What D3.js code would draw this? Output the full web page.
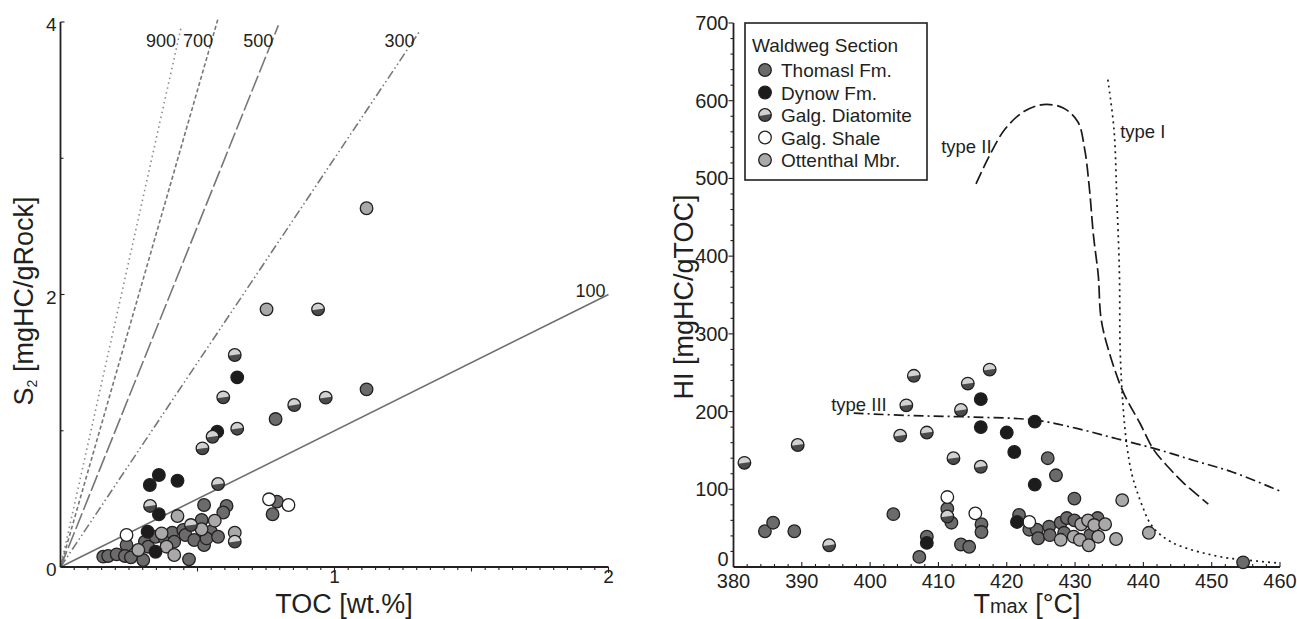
<!DOCTYPE html>
<html>
<head>
<meta charset="utf-8">
<script src="https://cdn.jsdelivr.net/npm/d3@7"></script>
<style>
body { margin: 0; background: #fff; }
svg { display: block; }
text { font-family: "Liberation Sans", Arial, sans-serif; fill: #231f20; }
</style>
</head>
<body>
<svg width="1297" height="619"></svg>
<script>
// ---- left plot: TOC [wt.%] vs S2 [mgHC/gRock]
const leftThomasl = [
  [1.117, 1.304], [0.785, 1.086], [0.79, 0.48], [0.774, 0.387], [0.524, 0.455], [0.606, 0.448],
  [0.594, 0.40], [0.515, 0.345], [0.469, 0.056], [0.241, 0.161], [0.156, 0.076], [0.174, 0.081],
  [0.205, 0.093], [0.235, 0.081], [0.257, 0.071], [0.302, 0.051], [0.308, 0.186], [0.32, 0.149],
  [0.347, 0.222], [0.381, 0.21], [0.408, 0.252], [0.415, 0.186], [0.448, 0.272], [0.456, 0.235],
  [0.488, 0.198], [0.524, 0.161], [0.549, 0.259], [0.533, 0.21], [0.575, 0.222]
];
const leftOttenthal = [
  [1.117, 2.633], [0.752, 1.891], [0.427, 0.374], [0.563, 0.34], [0.515, 0.277], [0.284, 0.125],
  [0.369, 0.247], [0.387, 0.149], [0.415, 0.088], [0.636, 0.252]
];
const leftShale = [[0.761, 0.497], [0.832, 0.455], [0.241, 0.235]];
const leftDynow = [
  [0.645, 1.392], [0.572, 0.993], [0.326, 0.602], [0.359, 0.675], [0.427, 0.633], [0.359, 0.387],
  [0.318, 0.259], [0.347, 0.112]
];
const leftDiatomite = [
  [0.94, 1.891], [0.636, 1.556], [0.594, 1.245], [0.853, 1.189], [0.968, 1.243], [0.645, 1.015],
  [0.555, 0.956], [0.518, 0.871], [0.575, 0.609], [0.327, 0.448], [0.476, 0.308], [0.636, 0.186]
];
// HI iso-lines (S2 = HI * TOC / 100) and the TOC where each one stops
const hiLines = [900, 700, 500, 300, 100];
const hiLineEndToc = [0.44, 0.575, 0.795, 1.31, 2.0];

// ---- right plot: Tmax [°C] vs HI [mgHC/gTOC]
const rightThomasl = [
  [384.6, 46], [385.8, 57], [388.9, 46], [403.4, 68], [407.2, 13], [408.3, 39], [411.3, 75],
  [411.9, 57], [413.3, 29], [414.5, 26], [416.3, 55], [416.3, 45], [426.0, 140], [427.2, 118],
  [429.9, 88], [454.6, 6], [421.8, 67], [423.3, 48], [424.4, 48], [424.6, 37], [426.2, 52],
  [426.3, 41], [427.9, 57], [428.8, 63], [428.4, 44], [429.9, 60], [432.2, 41], [433.3, 63]
];
const rightOttenthal = [
  [436.9, 86], [440.8, 44], [436.0, 36], [427.9, 35], [429.8, 39], [430.7, 35], [430.9, 55],
  [431.9, 60], [432.0, 28], [432.8, 54], [433.4, 39], [434.4, 55]
];
const rightShale = [[411.3, 90], [415.4, 69], [423.3, 58]];
const rightDynow = [
  [416.2, 216], [416.2, 180], [420.0, 173], [421.1, 148], [424.1, 187], [424.1, 106],
  [408.3, 31], [421.5, 58]
];
const rightDiatomite = [
  [381.6, 134], [389.4, 157], [394.0, 28], [404.4, 169], [405.3, 208], [406.4, 246], [408.3, 173],
  [411.3, 65], [412.2, 140], [413.3, 202], [414.3, 236], [416.2, 129], [417.5, 254]
];
// kerogen type curves
const typeICurve = [
  [434.8, 627], [435.7, 563], [436.1, 477], [436.5, 375], [436.6, 280], [437.0, 210], [437.6, 155],
  [438.3, 120], [439.0, 99], [440.0, 75], [441.0, 56], [442.3, 43], [443.9, 33], [446.0, 25],
  [448.8, 18], [452.0, 12], [455.0, 9], [459.9, 5]
];
const typeIICurve = [
  [415.5, 493], [417.4, 528], [419.7, 563], [422.5, 586], [425.3, 595], [428.2, 591], [430.4, 573],
  [431.4, 538], [432.1, 487], [432.7, 426], [433.4, 375], [433.8, 320], [434.9, 279], [437.1, 224],
  [439.5, 185], [441.5, 151], [443.7, 128], [445.9, 108], [449.5, 81]
];
const typeIIICurve = [
  [397.6, 198], [405.5, 195], [414.6, 193], [424.2, 189], [430.4, 178], [436.1, 165], [441.8, 152],
  [447.4, 137], [453.1, 122], [459.9, 98]
];
const typeLabels = ["type I", "type II", "type III"];
const typeLabelAt = [[436.6, 552], [410.4, 533], [394.3, 201]];

const legendTitle = "Waldweg Section";
const legendNames = ["Thomasl Fm.", "Dynow Fm.", "Galg. Diatomite", "Galg. Shale", "Ottenthal Mbr."];
const legendKinds = ["thomasl", "dynow", "diatomite", "shale", "ottenthal"];

// ---- drawing
const svg = d3.select("svg");
const ink = "#231f20";
const R = 6.3;
const fills = { thomasl: "#6b6b6b", dynow: "#1c1c1c", shale: "#ffffff", ottenthal: "#a9a9a9" };
const halfTop = `M${-R},0 A${R},${R} 0 0 1 ${R},0 Z`;

function drawMarkers(g, data, kind, x, y) {
  const m = g.append("g").selectAll("g")
    .data(data)
    .join("g")
    .attr("transform", d => `translate(${x(d[0])},${y(d[1])})`);
  if (kind === "diatomite") {
    m.append("circle").attr("r", R).attr("fill", "#4b4b4b");
    m.append("path").attr("d", halfTop).attr("fill", "#d2d2d2").attr("transform", "rotate(-8)");
    m.append("circle").attr("r", R).attr("fill", "none").attr("stroke", ink).attr("stroke-width", 1.3);
  } else {
    m.append("circle").attr("r", R).attr("fill", fills[kind]).attr("stroke", ink).attr("stroke-width", 1.3);
  }
}

// left plot
const xL = d3.scaleLinear().domain([0, 2]).range([60.5, 608.5]);
const yL = d3.scaleLinear().domain([0, 4]).range([567, 22]);
const gL = svg.append("g");

const lineStyle = {
  900: { dash: "1.5,3.5", color: "#8a8a8a" },
  700: { dash: "4,2.5", color: "#777" },
  500: { dash: "17,3.5", color: "#777" },
  300: { dash: "9,3,1.5,3,1.5,3", color: "#777" },
  100: { dash: null, color: "#6e6e6e" }
};
hiLines.forEach((hi, i) => {
  const toc = hiLineEndToc[i];
  gL.append("line")
    .attr("x1", xL(0)).attr("y1", yL(0))
    .attr("x2", xL(toc)).attr("y2", yL(hi * toc / 100))
    .attr("stroke", lineStyle[hi].color)
    .attr("stroke-width", 1.6)
    .attr("stroke-dasharray", lineStyle[hi].dash);
  const steep = hi > 100;
  gL.append("text")
    .attr("x", xL(toc) - (steep ? 5 : 3))
    .attr("y", steep ? yL(3.82) : yL(hi * toc / 100) + 2)
    .attr("text-anchor", "end")
    .attr("font-size", 18)
    .text(hi);
});

// left axes
gL.append("line").attr("x1", xL(0)).attr("x2", xL(0)).attr("y1", yL(4)).attr("y2", yL(0))
  .attr("stroke", ink).attr("stroke-width", 1.8);
gL.append("line").attr("x1", xL(0)).attr("x2", xL(2)).attr("y1", yL(0)).attr("y2", yL(0))
  .attr("stroke", ink).attr("stroke-width", 1.8);
gL.selectAll(".xt").data(d3.range(1, 41).map(i => i * 0.05)).join("line")
  .attr("x1", d => xL(d)).attr("x2", d => xL(d))
  .attr("y1", yL(0))
  .attr("y2", (d, i) => yL(0) + ((i + 1) % 20 === 0 ? 6 : (i + 1) % 10 === 0 ? 4.5 : 3))
  .attr("stroke", ink).attr("stroke-width", 1.1);
gL.selectAll(".yt").data([1, 2, 3, 4]).join("line")
  .attr("x1", xL(0)).attr("x2", d => xL(0) + (d % 2 === 0 ? 4 : 3))
  .attr("y1", d => yL(d)).attr("y2", d => yL(d))
  .attr("stroke", ink).attr("stroke-width", 1.1);
gL.selectAll(".xl").data([1, 2]).join("text")
  .attr("x", d => xL(d)).attr("y", yL(0) + 16)
  .attr("text-anchor", "middle").attr("font-size", 19)
  .text(d => d);
gL.selectAll(".yl").data([0, 2, 4]).join("text")
  .attr("x", xL(0) - 4).attr("y", d => yL(d) + 9)
  .attr("text-anchor", "end").attr("font-size", 19)
  .text(d => d);
gL.append("text")
  .attr("x", 344).attr("y", 613)
  .attr("text-anchor", "middle").attr("font-size", 27)
  .text("TOC [wt.%]");
const yTitleL = gL.append("text")
  .attr("transform", "translate(33,301) rotate(-90)")
  .attr("text-anchor", "middle").attr("font-size", 27);
yTitleL.append("tspan").text("S");
yTitleL.append("tspan").attr("font-size", 14).attr("dy", 4).text("2");
yTitleL.append("tspan").attr("dy", -4).text(" [mgHC/gRock]");

drawMarkers(gL, leftThomasl, "thomasl", xL, yL);
drawMarkers(gL, leftOttenthal, "ottenthal", xL, yL);
drawMarkers(gL, leftShale, "shale", xL, yL);
drawMarkers(gL, leftDynow, "dynow", xL, yL);
drawMarkers(gL, leftDiatomite, "diatomite", xL, yL);

// right plot
const xR = d3.scaleLinear().domain([380, 460]).range([733.5, 1280]);
const yR = d3.scaleLinear().domain([0, 700]).range([567, 23]);
const gR = svg.append("g");

const curve = d3.line().x(d => xR(d[0])).y(d => yR(d[1])).curve(d3.curveCatmullRom.alpha(0.5));
[[typeICurve, "2,4"], [typeIICurve, "13,4.5"], [typeIIICurve, "10,4,2,4"]].forEach(([pts, dash]) => {
  gR.append("path").attr("d", curve(pts))
    .attr("fill", "none").attr("stroke", "#1a1a1a")
    .attr("stroke-width", 1.7).attr("stroke-dasharray", dash);
});
gR.selectAll(".tl").data(typeLabels).join("text")
  .attr("x", (d, i) => xR(typeLabelAt[i][0]))
  .attr("y", (d, i) => yR(typeLabelAt[i][1]))
  .attr("font-size", 18.5)
  .text(d => d);

gR.append("line").attr("x1", xR(380)).attr("x2", xR(380)).attr("y1", yR(700)).attr("y2", yR(0))
  .attr("stroke", ink).attr("stroke-width", 1.8);
gR.append("line").attr("x1", xR(380)).attr("x2", xR(460)).attr("y1", yR(0)).attr("y2", yR(0))
  .attr("stroke", ink).attr("stroke-width", 1.8);
gR.selectAll(".xt").data(d3.range(382, 461, 2)).join("line")
  .attr("x1", d => xR(d)).attr("x2", d => xR(d))
  .attr("y1", yR(0)).attr("y2", d => yR(0) - (d % 10 === 0 ? 5 : 3))
  .attr("stroke", ink).attr("stroke-width", 1.1);
gR.selectAll(".yt").data(d3.range(20, 701, 20)).join("line")
  .attr("x1", xR(380)).attr("x2", d => xR(380) - (d % 100 === 0 ? 5 : 3))
  .attr("y1", d => yR(d)).attr("y2", d => yR(d))
  .attr("stroke", ink).attr("stroke-width", 1.1);
gR.selectAll(".xl").data(d3.range(380, 461, 10)).join("text")
  .attr("x", d => xR(d)).attr("y", yR(0) + 21)
  .attr("text-anchor", "middle").attr("font-size", 20)
  .text(d => d);
gR.selectAll(".yl").data(d3.range(0, 701, 100)).join("text")
  .attr("x", xR(380) - 5).attr("y", d => yR(d) + (d === 0 ? -1 : 7))
  .attr("text-anchor", "end").attr("font-size", 20)
  .text(d => d);
const xTitleR = gR.append("text")
  .attr("x", 1027).attr("y", 613)
  .attr("text-anchor", "middle").attr("font-size", 27);
xTitleR.append("tspan").text("T");
xTitleR.append("tspan").attr("font-size", 20).text("max");
xTitleR.append("tspan").text(" [°C]");
gR.append("text")
  .attr("transform", "translate(693,297) rotate(-90)")
  .attr("text-anchor", "middle").attr("font-size", 27)
  .text("HI [mgHC/gTOC]");

drawMarkers(gR, rightThomasl, "thomasl", xR, yR);
drawMarkers(gR, rightOttenthal, "ottenthal", xR, yR);
drawMarkers(gR, rightShale, "shale", xR, yR);
drawMarkers(gR, rightDynow, "dynow", xR, yR);
drawMarkers(gR, rightDiatomite, "diatomite", xR, yR);

// legend
const lg = gR.append("g").attr("transform", "translate(745,23)");
lg.append("rect").attr("width", 182).attr("height", 157)
  .attr("fill", "#fff").attr("stroke", ink).attr("stroke-width", 1.6);
lg.append("text").attr("x", 7).attr("y", 29).attr("font-size", 19).text(legendTitle);
const rows = lg.selectAll(".row").data(legendNames).join("g")
  .attr("transform", (d, i) => `translate(0,${47 + i * 22.5})`);
rows.append("text").attr("x", 36).attr("y", 7).attr("font-size", 19).text(d => d);
legendKinds.forEach((kind, i) => {
  const row = d3.select(rows.nodes()[i]);
  drawMarkers(row, [[0, 0]], kind, () => 20, () => 0);
});
</script>
</body>
</html>
